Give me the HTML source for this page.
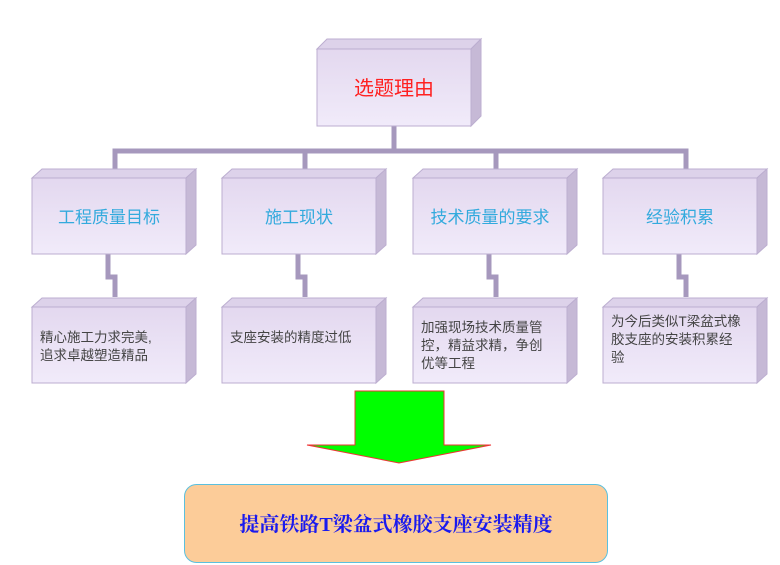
<!DOCTYPE html>
<html><head><meta charset="utf-8"><style>
html,body{margin:0;padding:0;background:#fff;}
svg{display:block;}
text{font-family:"Liberation Sans","Noto Sans CJK SC",sans-serif;}
</style></head><body>
<svg width="780" height="565" viewBox="0 0 780 565" xmlns="http://www.w3.org/2000/svg">
<defs>
<linearGradient id="f" x1="0" y1="0" x2="0" y2="1"><stop offset="0" stop-color="#e3d8ef"/><stop offset="1" stop-color="#f1ebfa"/></linearGradient>
</defs>
<g fill="none" stroke="#a698bd" stroke-width="5">
<path d="M394 126V150"/>
<path d="M115 169V151H686V169"/>
<path d="M305 151V169M496 151V169"/>
<path d="M108 254V277H115V297"/>
<path d="M298 254V277H305V297"/>
<path d="M489 254V277H496V297"/>
<path d="M679 254V277H686V297"/>
</g>
<g stroke="#bcaed0" stroke-width="1">
<!-- top -->
<polygon points="317,49 327,39 481,39 471,49" fill="#ddd2ea"/>
<polygon points="471,49 481,39 481,116 471,126" fill="#c6b9d6"/>
<rect x="317" y="49" width="154" height="77" fill="url(#f)"/>
<!-- row1 -->
<g id="b1">
<polygon points="32,178 42,169 196,169 186,178" fill="#ddd2ea"/>
<polygon points="186,178 196,169 196,245 186,254" fill="#c6b9d6"/>
<rect x="32" y="178" width="154" height="76" fill="url(#f)"/>
</g>
<use href="#b1" x="190"/><use href="#b1" x="381"/><use href="#b1" x="571"/>
<use href="#b1" y="129"/><use href="#b1" x="190" y="129"/><use href="#b1" x="381" y="129"/><use href="#b1" x="571" y="129"/>
</g>
<text x="394" y="95" font-size="20" fill="#ff2020" text-anchor="middle">选题理由</text>
<g font-size="17" fill="#33aadd" text-anchor="middle">
<text x="109" y="223">工程质量目标</text>
<text x="299" y="223">施工现状</text>
<text x="490" y="223">技术质量的要求</text>
<text x="680" y="223">经验积累</text>
</g>
<g font-size="13.5" fill="#444">
<text x="40" y="342">精心施工力求完美,</text>
<text x="40" y="360">追求卓越塑造精品</text>
<text x="230" y="342">支座安装的精度过低</text>
<text x="421" y="332">加强现场技术质量管</text>
<text x="421" y="350">控，精益求精，争创</text>
<text x="421" y="368">优等工程</text>
<text x="611" y="326">为今后类似T梁盆式橡</text>
<text x="611" y="344">胶支座的安装积累经</text>
<text x="611" y="362">验</text>
</g>
<polygon points="355,391 444,391 444,445 491,445 399,463 307,445 355,445" fill="#00ff00" stroke="#ee3333" stroke-width="1"/>
<rect x="184.5" y="484.5" width="423" height="78" rx="12" fill="#fccc99" stroke="#5bc0de" stroke-width="1"/>
<text x="396" y="531" font-size="20" font-weight="bold" fill="#1a1aee" text-anchor="middle" style="font-family:'Liberation Serif','Noto Serif CJK SC',serif">提高铁路T梁盆式橡胶支座安装精度</text>
</svg>
</body></html>
